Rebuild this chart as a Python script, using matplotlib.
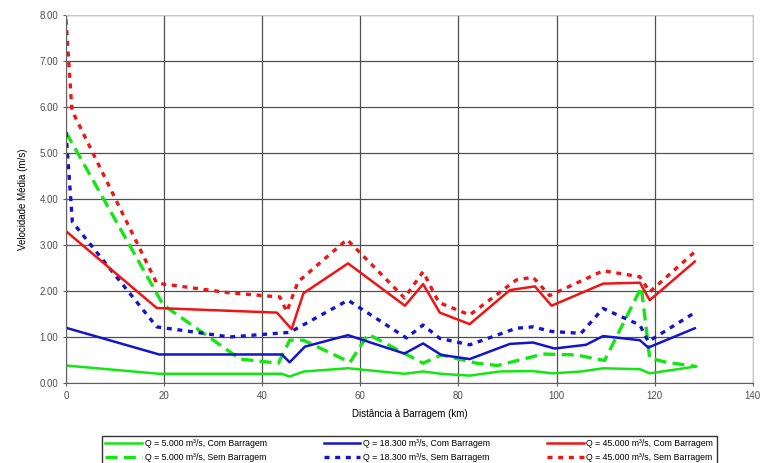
import numpy as np
import matplotlib
matplotlib.use("Agg")
import matplotlib.pyplot as plt

plt.rcParams['font.family'] = ['Liberation Sans', 'DejaVu Sans']
plt.rcParams['font.size'] = 7

# --- data ---
x_green_com = [0, 19, 44, 45.6, 48.5, 57.5, 69, 72.8, 76.5, 82.3, 88.4, 95, 99.3, 105, 109.5, 117, 119, 128.5]
v_green_com = [0.38, 0.20, 0.20, 0.14, 0.25, 0.32, 0.20, 0.25, 0.20, 0.16, 0.25, 0.26, 0.21, 0.25, 0.32, 0.30, 0.21, 0.36]

x_green_sem = [0, 19.8, 35.5, 43.3, 45.6, 48.4, 57.9, 61.6, 72.8, 76.5, 83.7, 88, 97.3, 104, 109.8, 117.3, 119, 122.4, 128.5]
v_green_sem = [5.45, 1.70, 0.52, 0.43, 0.93, 0.93, 0.45, 1.06, 0.43, 0.61, 0.43, 0.38, 0.63, 0.61, 0.49, 2.08, 0.54, 0.45, 0.36]

x_blue_com = [0, 19, 44, 45.6, 48.7, 57.5, 69, 72.8, 76.5, 82.3, 90.5, 95.2, 99.6, 106, 109.5, 117, 118.7, 128.2]
v_blue_com = [1.20, 0.62, 0.62, 0.45, 0.79, 1.04, 0.64, 0.86, 0.61, 0.52, 0.85, 0.88, 0.75, 0.83, 1.02, 0.93, 0.77, 1.19]

x_blue_sem = [0, 1.3, 18.5, 25.3, 33.4, 43, 45.6, 57.5, 69.4, 72.8, 76.2, 82.3, 91.8, 95.2, 99, 105, 109.5, 117, 118.7, 128.5]
v_blue_sem = [5.45, 3.50, 1.22, 1.12, 1.00, 1.08, 1.10, 1.80, 0.98, 1.26, 0.97, 0.83, 1.19, 1.22, 1.12, 1.08, 1.62, 1.26, 0.90, 1.55]

x_red_com = [0, 18.5, 43, 46, 48.4, 57.5, 69.1, 72.8, 76.2, 82.3, 90.5, 95.6, 99, 109.5, 117, 119, 128.2]
v_red_com = [3.30, 1.63, 1.53, 1.17, 1.95, 2.60, 1.68, 2.15, 1.53, 1.28, 2.02, 2.10, 1.68, 2.16, 2.18, 1.80, 2.64]

x_red_sem = [0, 1.2, 18.5, 33.4, 43.6, 45, 47.3, 57.3, 69, 72.8, 76, 82.3, 91.8, 95.2, 98.6, 109.5, 117, 119, 128.5]
v_red_sem = [7.90, 5.93, 2.17, 1.96, 1.87, 1.55, 2.20, 3.12, 1.85, 2.42, 1.75, 1.48, 2.24, 2.30, 1.90, 2.44, 2.31, 1.98, 2.88]

labels_com = ["Q = 5.000 m³/s, Com Barragem", "Q = 18.300 m³/s, Com Barragem", "Q = 45.000 m³/s, Com Barragem"]
labels_sem = ["Q = 5.000 m³/s, Sem Barragem", "Q = 18.300 m³/s, Sem Barragem", "Q = 45.000 m³/s, Sem Barragem"]

green, blue, red = '#14e614', '#1414cc', '#f01414'

fig = plt.figure(figsize=(7.72, 4.63), dpi=100)
ax = fig.add_axes([0.0855, 0.1728, 0.8895, 0.7948])

ax.plot(x_green_com, v_green_com, color=green, lw=1.8, label=labels_com[0])
ax.plot(x_green_sem, v_green_sem, color=green, lw=2.4, dashes=(3.6, 1.9), label=labels_sem[0])
ax.plot(x_blue_com, v_blue_com, color=blue, lw=1.8, label=labels_com[1])
ax.plot(x_blue_sem, v_blue_sem, color=blue, lw=2.4, dashes=(1.5, 1.7), label=labels_sem[1])
ax.plot(x_red_com, v_red_com, color=red, lw=1.8, label=labels_com[2])
ax.plot(x_red_sem, v_red_sem, color=red, lw=2.4, dashes=(1.5, 1.7), label=labels_sem[2])

ax.set_xlim(0, 140)
ax.set_ylim(0, 8)
ax.set_xticks(np.arange(0, 141, 20))
ax.set_yticks(np.arange(0, 8.1, 1))
ax.set_yticklabels([f"{v:.2f}" for v in np.arange(0, 8.1, 1)])
ax.grid(True, color='#505050', lw=0.9)
ax.set_axisbelow(True)
for s in ['left', 'bottom']:
    ax.spines[s].set_color('#606060')
for s in ['top', 'right']:
    ax.spines[s].set_color('#c8c8c8')
ax.tick_params(direction='inout', length=4, colors='#606060', labelcolor='#505050', labelsize=7)

ax.set_xlabel("Distância à Barragem (km)", fontsize=7, labelpad=6)
ax.set_ylabel("Velocidade Média (m/s)", fontsize=7, labelpad=8)

ax.legend(loc='upper center', bbox_to_anchor=(0.530, 0.068), bbox_transform=fig.transFigure,
          ncol=3, fontsize=6.3, frameon=True, fancybox=False, edgecolor='black',
          handlelength=4.2, handletextpad=0.3, columnspacing=6.5,
          borderpad=0.4, labelspacing=0.55)

fig.savefig("out.png", dpi=100)
